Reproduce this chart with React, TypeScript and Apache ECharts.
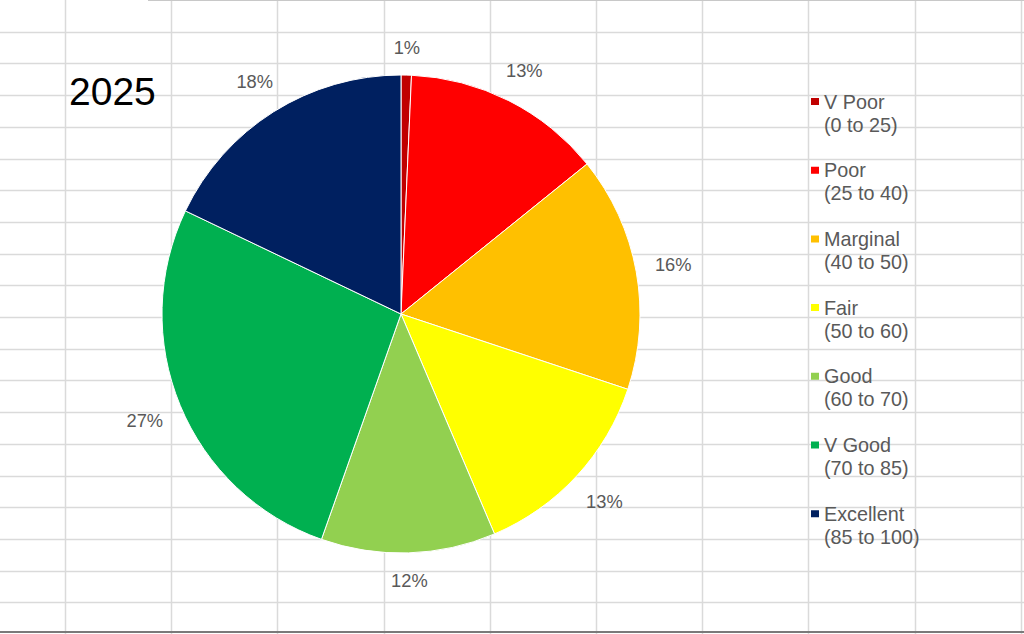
import React, { useEffect, useRef } from "react";
import * as echarts from "echarts";

const categories = ["V Poor", "Poor", "Marginal", "Fair", "Good", "V Good", "Excellent"];
const ranges = ["0 to 25", "25 to 40", "40 to 50", "50 to 60", "60 to 70", "70 to 85", "85 to 100"];
const shares = [0.7, 13.5, 15.9, 13.5, 11.8, 26.7, 17.9];
const colors = ["#C00000", "#FF0000", "#FFC000", "#FFFF00", "#92D050", "#00B050", "#002060"];
const titleText = "2025";

const W = 1024;
const H = 634;
const CX = 401;
const CY = 314;
const R = 239;
const LABEL_GAP = 18;

function buildGrid() {
  const els: any[] = [];
  const colW = 106.2;
  for (let i = 0; i < 10; i++) {
    const x = Math.round(65 + i * colW) + 0.5;
    els.push({
      type: "line",
      z: -10,
      silent: true,
      shape: { x1: x, y1: 0, x2: x, y2: H },
      style: { stroke: "#dadada", lineWidth: 1.5 },
    });
  }
  const rowH = 31.7;
  for (let j = 1; j < 20; j++) {
    const y = Math.round(j * rowH) + 0.5;
    els.push({
      type: "line",
      z: -10,
      silent: true,
      shape: { x1: 0, y1: y, x2: W, y2: y },
      style: { stroke: "#dadada", lineWidth: 1.5 },
    });
  }
  els.push({
    type: "line",
    z: -10,
    silent: true,
    shape: { x1: 148, y1: 0.5, x2: W, y2: 0.5 },
    style: { stroke: "#c8c8c8", lineWidth: 1 },
  });
  els.push({
    type: "line",
    z: -10,
    silent: true,
    shape: { x1: 0, y1: 632, x2: W, y2: 632 },
    style: { stroke: "#7a7a7a", lineWidth: 2 },
  });
  return els;
}

export default function App() {
  const ref = useRef<HTMLDivElement>(null);
  useEffect(() => {
    document.body.style.margin = "0";
    if (!ref.current) return;
    const chart = echarts.init(ref.current, null, { renderer: "svg" });
    const names = categories.map((c, i) => `${c}\n(${ranges[i]})`);
    const data = names.map((n, i) => ({ name: n, value: shares[i], itemStyle: { color: colors[i] } }));
    const font = "'Liberation Sans', Arial, sans-serif";
    chart.setOption({
      animation: false,
      backgroundColor: "#ffffff",
      color: colors,
      title: {
        text: titleText,
        left: 69,
        top: 72,
        padding: 0,
        textStyle: { fontSize: 39, fontWeight: "normal", color: "#000", fontFamily: font },
      },
      legend: {
        orient: "vertical",
        left: 811,
        top: 90,
        padding: 0,
        itemGap: 22.7,
        itemWidth: 8,
        itemHeight: 46,
        icon: "path://M0,0h0.01v0.01h-0.01z M0,8h8v7h-8z M0,45.99h0.01v0.01h-0.01z",
        itemStyle: { borderWidth: 0 },
        data: names,
        textStyle: { fontSize: 19.8, lineHeight: 23, color: "#595959", fontFamily: font },
        selectedMode: false,
      },
      graphic: { elements: buildGrid() },
      series: [
        {
          type: "pie",
          center: [CX, CY],
          radius: [0, R],
          startAngle: 90,
          clockwise: true,
          avoidLabelOverlap: false,
          percentPrecision: 0,
          labelLine: { show: false },
          label: {
            show: true,
            position: "inside",
            formatter: "{d}%",
            fontSize: 18.3,
            color: "#595959",
            fontFamily: font,
          },
          labelLayout: (p: any) => {
            const lr = p.labelRect;
            const mx = lr.x + lr.width / 2;
            const my = lr.y + lr.height / 2;
            let ux = mx - CX;
            let uy = my - CY;
            const len = Math.sqrt(ux * ux + uy * uy) || 1;
            ux /= len;
            uy /= len;
            const half = Math.abs(ux) * lr.width / 2 + Math.abs(uy) * lr.height / 2;
            const d = R + LABEL_GAP + half;
            return { x: CX + ux * d, y: CY + uy * d };
          },
          itemStyle: { borderColor: "#ffffff", borderWidth: 1 },
          emphasis: { disabled: true },
          data,
        },
      ],
    });
    return () => chart.dispose();
  }, []);
  return <div ref={ref} style={{ width: W, height: H }} />;
}
